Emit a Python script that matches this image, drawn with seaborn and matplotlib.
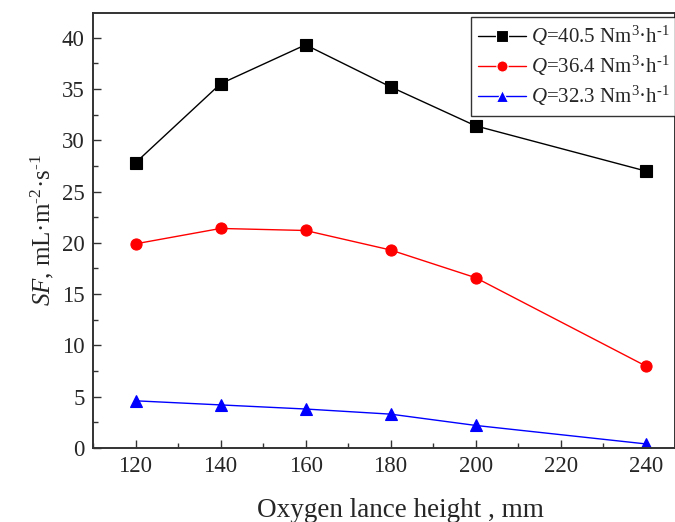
import matplotlib
matplotlib.use("Agg")
import matplotlib.pyplot as plt
from matplotlib.ticker import MultipleLocator
import seaborn as sns
import pandas as pd

heights = [120, 140, 160, 180, 200, 240]
sf_405 = [27.8, 35.5, 39.3, 35.2, 31.4, 27.0]
sf_364 = [19.9, 21.4, 21.2, 19.3, 16.6, 8.0]
sf_323 = [4.6, 4.2, 3.8, 3.3, 2.2, 0.4]

HY = "\u2010"  # typographic hyphen used as a short superscript minus
labels = [r"$Q$=40.5 Nm$^{3}$·h$^{" + HY + "1}$",
          r"$Q$=36.4 Nm$^{3}$·h$^{" + HY + "1}$",
          r"$Q$=32.3 Nm$^{3}$·h$^{" + HY + "1}$"]
series = [sf_405, sf_364, sf_323]
colors = ["black", "red", "blue"]

rows = []
for lab, vals in zip(labels, series):
    for h, v in zip(heights, vals):
        rows.append({"height": h, "SF": v, "flow": lab})
df = pd.DataFrame(rows)

sns.set_style("ticks")
plt.rcParams["font.family"] = ["Liberation Serif", "DejaVu Serif"]
plt.rcParams["mathtext.fontset"] = "custom"
plt.rcParams["mathtext.rm"] = "Liberation Serif"
plt.rcParams["mathtext.it"] = "Liberation Serif:italic"

fig = plt.figure(figsize=(6.75, 5.22), dpi=100)
ax = fig.add_axes([93 / 675, 74 / 522, 582 / 675, 435 / 522])

palette = dict(zip(labels, colors))
markers = dict(zip(labels, ["s", "o", "^"]))
sns.lineplot(data=df, x="height", y="SF", hue="flow", style="flow",
             palette=palette, markers=markers, dashes=False,
             markersize=8, linewidth=1.0, markeredgewidth=0.8, ax=ax)
for line, c in zip(ax.lines, colors):
    line.set_markeredgecolor(c)

ax.set_xlim(110, 246.9)
ax.set_ylim(0, 42.4)
ax.xaxis.set_major_locator(MultipleLocator(20))
ax.xaxis.set_minor_locator(MultipleLocator(10))
ax.yaxis.set_major_locator(MultipleLocator(5))
ax.yaxis.set_minor_locator(MultipleLocator(2.5))
ax.tick_params(which="both", direction="in", top=False, right=False,
               color="#333333", labelsize=16.5)
ax.tick_params(which="major", length=6, width=1.0, pad=6)
ax.tick_params(which="minor", length=3.5, width=1.0)
for sp in ax.spines.values():
    sp.set_linewidth(1.4)
    sp.set_color("#333333")

ax.set_xlabel("Oxygen lance height , mm", fontsize=19.5)
ax.xaxis.set_label_coords(0.529, -0.115)
ax.set_ylabel(r"$SF$, mL·m$^{" + HY + "2}$·s$^{" + HY + "1}$",
              fontsize=18, labelpad=4)

leg = ax.legend(loc="upper right", bbox_to_anchor=(1.004, 0.991),
                frameon=True, fancybox=False, edgecolor="black",
                fontsize=15, handlelength=2.3, borderpad=0.35,
                labelspacing=0.28, handletextpad=0.25, borderaxespad=0,
                markerscale=1.0)
leg.get_frame().set_linewidth(1.0)

fig.savefig("out.png", dpi=100)
